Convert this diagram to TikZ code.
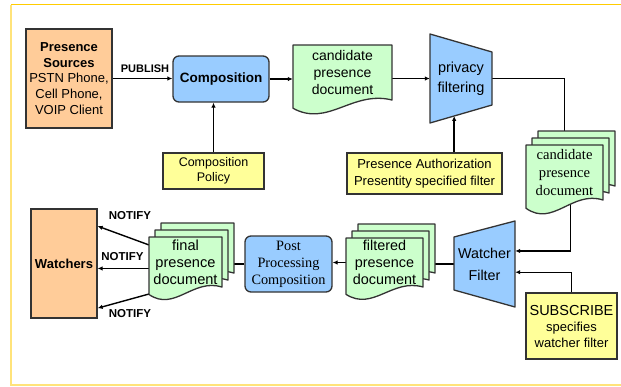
\documentclass[tikz,border=0pt]{standalone}
\usepackage{fontspec}
\setmainfont{Liberation Sans}
\newfontfamily\timesfont{Liberation Serif}
\usetikzlibrary{arrows.meta}
\usetikzlibrary{calc}
\usetikzlibrary{backgrounds}

\definecolor{peach}{HTML}{FFCC99}
\definecolor{skyblue}{HTML}{99CCFF}
\definecolor{paleyellow}{HTML}{FFFF99}
\definecolor{palegreen}{HTML}{CCFFCC}
\definecolor{edgegray}{HTML}{333333}
\definecolor{frametop}{HTML}{FFCC00}
\definecolor{frameside}{HTML}{FFE37A}

\tikzset{
	box/.style={draw=edgegray, line width=1.3pt, inner sep=0pt, align=center},
	srcbox/.style={box, fill=peach},
	procbox/.style={box, fill=skyblue, rounded corners=6pt},
	notebox/.style={box, fill=paleyellow},
	shapetext/.style={inner sep=0pt, align=center},
	arr/.style={line width=1.4pt, -{Latex[length=5pt,width=4.5pt]}},
	lbl/.style={inner sep=0pt, font=\fontsize{11.5}{13}\selectfont\bfseries},
}

\newcommand{\docshape}[4] % x, y of top left corner, width, height of right side
{
	% body with wavy bottom
	\filldraw[draw=edgegray, fill=palegreen, line width=1.3pt, line join=round]
		(#1,#2) -- (#1+#3,#2) -- (#1+#3,#2+#4)
		.. controls (#1+0.6*#3,#2+0.82*#4) and (#1+0.35*#3,#2+1.5*#4) .. (#1,#2+1.15*#4) -- cycle;
}

\newcommand{\docstack}[4] % x, y of front document, width, height
{
	\docshape{#1+12}{#2-14}{#3}{#4}
	\docshape{#1+6}{#2-7}{#3}{#4}
	\docshape{#1}{#2}{#3}{#4}
}

\begin{document}
\begin{tikzpicture}[x=1pt, y=-1pt]
	% page: 621 x 386 px, y grows downwards
	\useasboundingbox (0,0) rectangle (621,386);
	\draw[frametop, line width=1.5pt] (11,4.5) -- (621,4.5);
	\draw[frameside, line width=2pt] (11,4.5) -- (11,385) -- (621,385);

	% publishing side
	\node[srcbox, minimum width=86pt, minimum height=99pt, font=\fontsize{13}{15.6}\selectfont] (src) at (69,78.5)
		{\textbf{Presence}\\\textbf{Sources}\\PSTN Phone,\\Cell Phone,\\VOIP Client};
	\node[procbox, minimum width=96pt, minimum height=46pt, font=\fontsize{13.5}{16}\selectfont\bfseries] (comp) at (221,79) {Composition};
	\node[notebox, minimum width=101pt, minimum height=36pt, font=\fontsize{12.5}{15}\selectfont] (pol) at (213.5,171) {Composition\\Policy};
	\node[lbl, font=\fontsize{11}{13}\selectfont\bfseries] (publish) at (145,69) {PUBLISH};

	\docshape{293}{45}{99}{55};
	\node[shapetext, minimum width=99pt, minimum height=55pt, font=\fontsize{14}{16.7}\selectfont] (cand) at (342.5,72.5)
		{candidate\\presence\\document};

	% privacy filter
	\filldraw[draw=edgegray, fill=skyblue, line width=1.3pt, line join=round]
		(430,34) -- (492,52) -- (492,105) -- (430,123) -- cycle;
	\coordinate (pv-sw) at (430,123);
	\coordinate (pv-se) at (492,105);
	\coordinate (pvin) at ($(pv-sw)!0.39!(pv-se)$);
	\node[shapetext, minimum width=62pt, minimum height=89pt, font=\fontsize{14.5}{20}\selectfont] (privacy) at (461,78.5)
		{privacy\\filtering};
	\node[notebox, minimum width=155pt, minimum height=41pt, font=\fontsize{13}{16.7}\selectfont] (auth) at (424.5,173.5)
		{Presence Authorization\\Presentity specified filter};

	% candidate stack
	\docstack{526}{145}{77}{55};
	\node[shapetext, minimum width=77pt, minimum height=55pt] (candb) at (570.5,165.5) {};
	\node[shapetext, minimum width=77pt, minimum height=55pt, font=\timesfont\fontsize{14.6}{18}\selectfont] (cand2) at (564.5,172.5)
		{candidate\\presence\\document};

	% watcher filter
	\filldraw[draw=edgegray, fill=skyblue, line width=1.3pt, line join=round]
		(454,237) -- (515,221) -- (515,307) -- (454,290) -- cycle;
	\node[shapetext, minimum width=61pt, minimum height=86pt, font=\fontsize{14.3}{22}\selectfont] (watcher) at (484.5,264)
		{Watcher\\Filter};
	\node[notebox, minimum width=91pt, minimum height=66pt, font=\fontsize{13}{16}\selectfont] (sub) at (571.5,326)
		{{\fontsize{14.5}{16}\selectfont SUBSCRIBE}\\specifies\\watcher filter};

	% filtered stack
	\docstack{346}{238}{77}{49};
	\node[shapetext, minimum width=77pt, minimum height=49pt] (filteredb) at (390.5,255.5) {};
	\node[shapetext, minimum width=77pt, minimum height=49pt, font=\fontsize{14.4}{17}\selectfont] (filtered) at (384.5,262.5)
		{filtered\\presence\\document};

	\node[procbox, minimum width=87pt, minimum height=56pt, font=\timesfont\fontsize{14.3}{17}\selectfont] (post) at (288.5,264)
		{Post\\Processing\\Composition};

	% final stack
	\docstack{149}{237}{73}{50};
	\node[shapetext, minimum width=73pt, minimum height=50pt] (finalb) at (191.5,255) {};
	\node[shapetext, minimum width=73pt, minimum height=50pt, font=\fontsize{14.6}{17}\selectfont] (final) at (185.5,262)
		{final\\presence\\document};
	\coordinate (finalfoot) at (149,294);

	\node[srcbox, minimum width=66pt, minimum height=109pt, font=\fontsize{13}{15.6}\selectfont\bfseries] (watchers) at (64,263.5) {Watchers};
	\node[lbl] (notify1) at (130,216) {NOTIFY};
	\node[lbl] (notify2) at (122.5,257) {NOTIFY};
	\node[lbl] (notify3) at (130,314) {NOTIFY};

	% connectors
	\begin{scope}[on background layer]
		\draw[arr] (src.east) -- (src.east -| comp.west);
		\draw[arr] (pol.north) -- (pol.north |- comp.south);
		\draw[arr] (comp.east) -- (comp.east -| cand.west);
		\draw[arr] (cand.east |- privacy.west) -- (privacy.west);
		\draw[arr] (auth.north -| pvin) -- (pvin);
		\draw[arr] (privacy.east) -| (cand2.north |- candb.north);
		\draw[arr] (candb.south) |- (watcher.23);
		\draw[arr] (sub.north) |- (watcher.345);
		\draw[arr] (watcher.west) -- (watcher.west -| filteredb.east);
		\draw[arr] (filtered.west) -- (filtered.west -| post.east);
		\draw[arr] (post.west) -- (post.west -| finalb.east);
		\draw[arr] (final.155) -- (watchers.48.7);
		\draw[arr] (final.190) -- (final.190 -| watchers.east);
		\draw[arr] (finalfoot) -- (watchers.307);
	\end{scope}
\end{tikzpicture}
\end{document}
